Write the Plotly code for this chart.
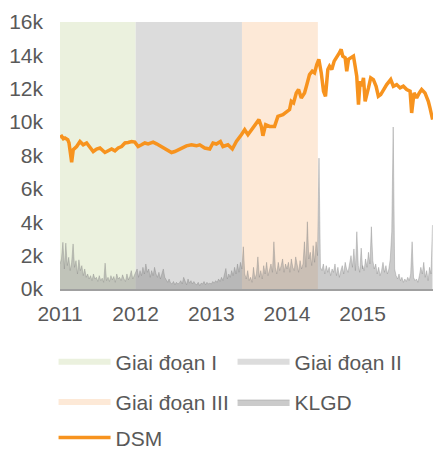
import plotly.graph_objects as go

# ---- DSM price (time in decimal years, value in VND) ----
price_t = [
    2011.000, 2011.022, 2011.044, 2011.066, 2011.102, 2011.119, 2011.136, 2011.154, 2011.175,
    2011.220, 2011.264, 2011.307, 2011.352, 2011.396, 2011.439, 2011.484, 2011.528, 2011.594,
    2011.637, 2011.682, 2011.726, 2011.769, 2011.814, 2011.858, 2011.901, 2011.946, 2011.989,
    2012.033, 2012.078, 2012.121, 2012.165, 2012.231, 2012.276, 2012.342, 2012.408, 2012.474,
    2012.517, 2012.583, 2012.649, 2012.671, 2012.737, 2012.803, 2012.847, 2012.913, 2012.979,
    2013.022, 2013.067, 2013.120, 2013.154, 2013.220, 2013.278, 2013.331, 2013.397, 2013.441,
    2013.484, 2013.529, 2013.573, 2013.629, 2013.661, 2013.682, 2013.718, 2013.770, 2013.836,
    2013.880, 2013.946, 2013.991, 2014.034, 2014.057, 2014.087, 2014.123, 2014.153, 2014.189,
    2014.232, 2014.263, 2014.298, 2014.334, 2014.364, 2014.394, 2014.421, 2014.453, 2014.483,
    2014.509, 2014.540, 2014.562, 2014.592, 2014.624, 2014.658, 2014.694, 2014.716, 2014.737,
    2014.769, 2014.790, 2014.813, 2014.843, 2014.879, 2014.901, 2014.922, 2014.945, 2014.967,
    2014.988, 2015.011, 2015.033, 2015.054, 2015.077, 2015.107, 2015.142, 2015.178, 2015.208,
    2015.239, 2015.274, 2015.318, 2015.371, 2015.406, 2015.450, 2015.495, 2015.538, 2015.582,
    2015.627, 2015.648, 2015.679, 2015.714, 2015.749, 2015.780, 2015.824, 2015.868, 2015.890,
    2015.925,
]
price_v = [
    9100, 9150, 9000, 9050, 8950, 8750, 8200, 7600, 8350,
    8540, 8840, 8640, 8750, 8450, 8240, 8390, 8450, 8180,
    8300, 8390, 8280, 8450, 8540, 8750, 8780, 8840, 8800,
    8540, 8640, 8750, 8690, 8800, 8700, 8540, 8390, 8180,
    8240, 8390, 8540, 8580, 8640, 8580, 8640, 8450, 8390,
    8750, 8690, 8840, 8540, 8640, 8390, 8840, 9245, 9545,
    9245, 9545, 9846, 10150, 9745, 9185, 9846, 9745, 9745,
    10345, 10450, 10590, 10750, 11250, 11150, 11750, 11950, 11450,
    11750, 12250, 12850, 13050, 12950, 13455, 13760, 12950, 11850,
    11550, 13150, 13350, 13150, 13655, 13860, 14160, 14360, 13955,
    13860, 13050, 13760, 13860, 13955, 13350, 12750, 11050, 12450,
    12150, 12655, 11250, 11750, 12050, 12655, 12550, 12150, 11550,
    11650, 11950, 12250, 12550, 12150, 12250, 12050, 12150, 11950,
    11850, 10550, 11750, 11450, 11750, 11950, 11750, 11250, 10850,
    10150,
]

# ---- weekly trading volume (KLGD), by year ----
vol_2011 = [1500, 1800, 2800, 1200, 2750, 1400, 1900, 1100, 1600, 2700, 1300,
            1700, 900, 1750, 1100, 1400, 800, 1200, 700, 900, 600,
            800, 500, 900, 600, 700, 450, 800, 500, 650, 400,
            1550, 500, 700, 450, 800, 550, 750, 400, 900, 600,
            700, 500, 850, 600, 450, 900, 550, 750, 1100, 600, 800]
vol_2012 = [900, 1200, 700, 1100, 800, 1300, 900, 1500, 1000, 1200, 700,
            1100, 800, 1300, 900, 700, 1000, 600, 900, 1200, 700,
            500, 400, 600, 350, 300, 450, 250, 400, 300, 350,
            500, 300, 700, 400, 250, 600, 350, 500, 300, 450,
            300, 250, 400, 200, 350, 300, 450, 250, 400, 300, 350]
vol_2013 = [300, 450, 350, 500, 400, 600, 450, 700, 500, 800, 1230,
            600, 900, 700, 1100, 800, 1300, 900, 1500, 1000, 1600,
            1200, 2530, 900, 600, 1100, 500, 700, 400, 1300, 600,
            900, 1925, 700, 1100, 600, 1400, 900, 1600, 800, 1200,
            1500, 1000, 2830, 1300, 900, 1600, 1100, 1400, 1800, 1000, 1500]
vol_2014 = [1200, 1600, 1000, 1800, 1300, 1100, 1925, 1400, 1000, 1700, 1200,
            1500, 2830, 1300, 4030, 1800, 2200, 1400, 2600, 1600, 2830, 2000,
            7843,
            1300, 1100, 1500, 900, 1400, 1000, 1300, 800, 1200,
            1000, 1500, 800, 1300, 700, 1100, 1400, 900, 1600, 1200,
            1000, 1500, 2000, 1300, 2400, 1100, 3430, 1400, 1000, 2450, 1200]
vol_2015 = [1400, 1100, 1800, 1300, 2200, 1500, 3730, 1700, 1200, 1500, 900,
            1300, 800, 1100, 1600, 1000, 1400, 900, 1200, 1800, 3430,
            9708,
            1200, 800, 600, 900, 500, 700, 400, 600, 450,
            700, 500, 900, 2830, 700, 500, 600, 400, 800, 1300,
            900, 1600, 700, 1100, 500, 1300, 900, 3830]
vol_years = [2011, 2012, 2013, 2014, 2015]
vol_lists = [vol_2011, vol_2012, vol_2013, vol_2014, vol_2015]

# ---- phases ----
phase_names = ["Giai đoạn I", "Giai đoạn II", "Giai đoạn III"]
phase_start = [2011.0, 2012.0, 2013.405]
phase_end = [2012.0, 2013.405, 2014.408]
phase_colors = ["#EBF1DE", "#DCDCDC", "#FDE9D7"]
band_top = 16000

y_ticks = [0, 2000, 4000, 6000, 8000, 10000, 12000, 14000, 16000]
y_labels = ["0k", "2k", "4k", "6k", "8k", "10k", "12k", "14k", "16k"]
x_ticks = [2011, 2012, 2013, 2014, 2015]
x_labels = ["2011", "2012", "2013", "2014", "2015"]

FONT = "Arial, Liberation Sans, sans-serif"
TXT = "#595959"
FS = 21

fig = go.Figure()

legend_of = ["legend", "legend", "legend2"]
for name, s, e, c, lg in zip(phase_names, phase_start, phase_end, phase_colors, legend_of):
    fig.add_trace(go.Scatter(
        x=[s, e, e, s, s], y=[0, 0, band_top, band_top, 0],
        fill="toself", fillcolor=c, mode="none", name=name,
        legend=lg, hoverinfo="skip",
    ))

vol_t, vol_v = [], []
for yr, lst in zip(vol_years, vol_lists):
    for i, v in enumerate(lst):
        vol_t.append(yr + i / 52)
        vol_v.append(v)

fig.add_trace(go.Scatter(
    x=vol_t, y=vol_v, mode="lines", fill="tozeroy",
    fillcolor="rgba(140,140,140,0.45)",
    line=dict(color="rgba(130,130,130,0.6)", width=0.6),
    name="KLGD", legend="legend2",
))

fig.add_trace(go.Scatter(
    x=price_t, y=price_v, mode="lines",
    line=dict(color="#F7931E", width=3.5),
    name="DSM", legend="legend3",
))

leg_common = dict(orientation="h", font=dict(family=FONT, size=FS, color=TXT),
                  bgcolor="rgba(0,0,0,0)", itemwidth=52, entrywidth=112,
                  xref="container", yref="container",
                  xanchor="left", yanchor="middle", x=0.1234, itemclick=False)

fig.update_layout(
    width=434, height=451,
    margin=dict(l=60, r=1, t=22, b=162),
    paper_bgcolor="white", plot_bgcolor="white",
    font=dict(family=FONT, size=FS, color=TXT),
    showlegend=True,
    legend=dict(**leg_common, y=0.197),
    legend2=dict(**leg_common, y=0.108),
    legend3=dict(**leg_common, y=0.029),
    xaxis=dict(range=[2011, 2015.93], tickvals=x_ticks, ticktext=x_labels,
               showgrid=False, zeroline=False, showline=True,
               linecolor="#A0A0A0", linewidth=2, ticks="",
               ticklabelstandoff=5,
               tickfont=dict(family=FONT, size=FS, color=TXT)),
    yaxis=dict(range=[0, 16000], tickvals=y_ticks, ticktext=y_labels,
               showgrid=False, zeroline=False, showline=False, ticks="",
               ticklabelstandoff=16,
               tickfont=dict(family=FONT, size=FS, color=TXT)),
)

fig.write_html("out.html",
               config={"displayModeBar": False},
               post_script="document.body.style.margin='0';document.body.style.overflow='hidden';")
